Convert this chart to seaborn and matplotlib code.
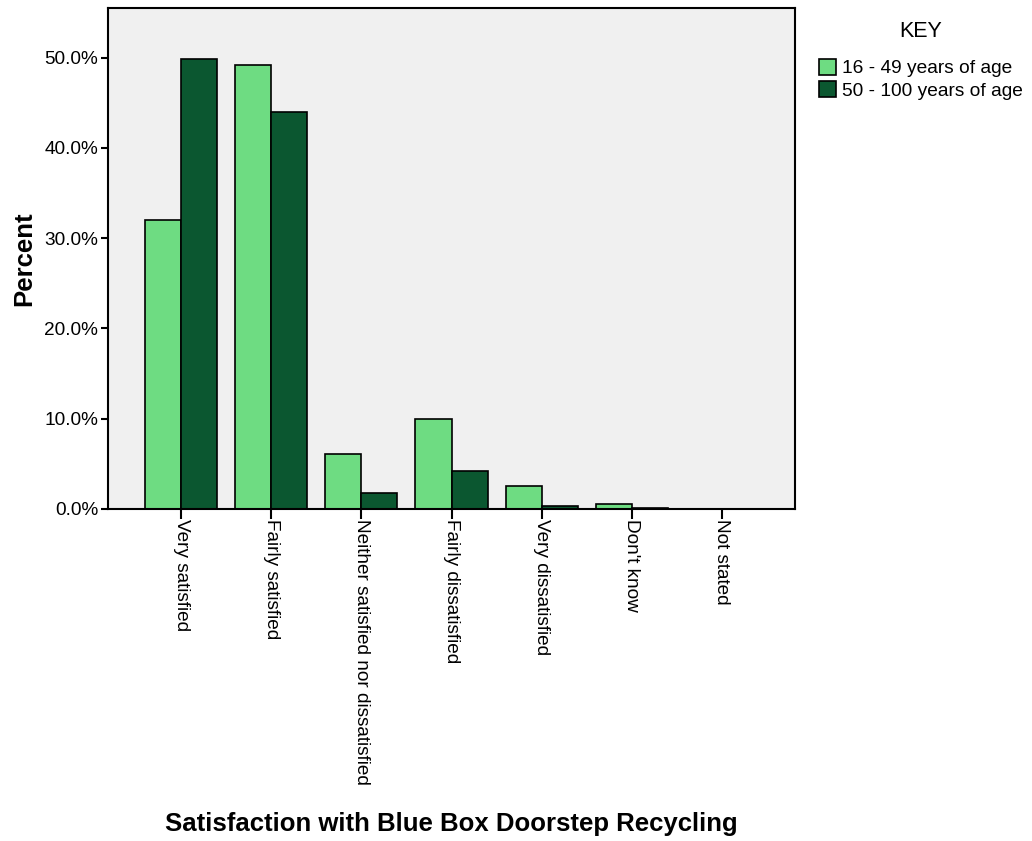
import numpy as np
import pandas as pd
import matplotlib
matplotlib.use("Agg")
import matplotlib.pyplot as plt
import seaborn as sns
from matplotlib.ticker import PercentFormatter

# data
categories = ["Very satisfied", "Fairly satisfied", "Neither satisfied nor dissatisfied",
              "Fairly dissatisfied", "Very dissatisfied", "Don't know", "Not stated"]
groups = ["16 - 49 years of age", "50 - 100 years of age"]
young = [32.0, 49.2, 6.1, 10.0, 2.5, 0.5, 0.05]
old = [49.8, 44.0, 1.8, 4.2, 0.3, 0.15, 0.05]
colors = ["#6EDC82", "#0B5730"]

df = pd.DataFrame({
    "category": categories * 2,
    "age": [groups[0]] * len(categories) + [groups[1]] * len(categories),
    "percent": young + old,
})

sns.set_style("white")
plt.rcParams["font.family"] = ["Liberation Sans", "DejaVu Sans"]
plt.rcParams["text.color"] = "black"
plt.rcParams["axes.labelcolor"] = "black"
plt.rcParams["xtick.color"] = "black"
plt.rcParams["ytick.color"] = "black"

fig = plt.figure(figsize=(10.32, 8.41), dpi=100)
ax = fig.add_axes([0.1047, 0.3948, 0.6656, 0.5957])
ax.set_facecolor("#F0F0F0")

sns.barplot(data=df, x="category", y="percent", hue="age", hue_order=groups,
            order=categories, palette=colors, saturation=1, edgecolor="black",
            linewidth=1.2, width=0.8, ax=ax)

ax.set_xlim(-0.81, 6.81)
ax.set_ylim(0, 55.5)
ax.set_yticks([0, 10, 20, 30, 40, 50])
ax.yaxis.set_major_formatter(PercentFormatter(decimals=1))
ax.tick_params(axis="y", direction="out", length=5, width=1.5, labelsize=13.7, left=True, pad=2)
ax.tick_params(axis="x", direction="out", length=7, width=1.5, labelsize=13.7, bottom=True, pad=0)
for lab in ax.get_xticklabels():
    lab.set_rotation(270)
    lab.set_va("top")
    lab.set_ha("center")

for s in ax.spines.values():
    s.set_color("black")
    s.set_linewidth(1.5)

ax.set_ylabel("Percent", fontsize=18.5, fontweight="bold", labelpad=6)
ax.set_xlabel("Satisfaction with Blue Box Doorstep Recycling", fontsize=18.5,
              fontweight="bold", labelpad=20)

leg = ax.legend(title="KEY", loc="upper left", bbox_to_anchor=(1.01, 1.008),
                frameon=False, fontsize=13.8, title_fontsize=15.5,
                handlelength=0.9, handleheight=0.9, handletextpad=0.3,
                labelspacing=0.2)
leg._legend_box.sep = 12
for h in leg.legend_handles:
    h.set_edgecolor("black")
    h.set_linewidth(1.2)

fig.savefig("out.png", dpi=100)
